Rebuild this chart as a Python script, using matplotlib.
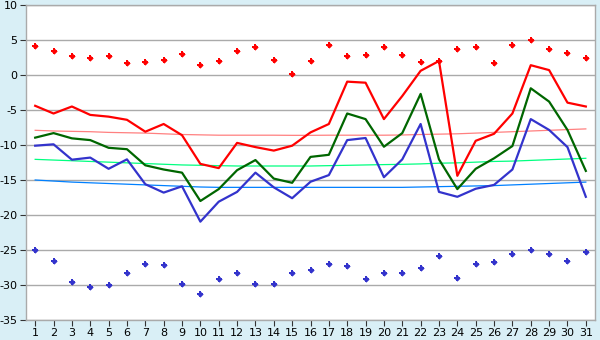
import matplotlib
matplotlib.use("Agg")
import matplotlib.pyplot as plt

days = list(range(1, 32))

max_temp = [-4.4, -5.5, -4.5, -5.7, -5.95, -6.4, -8.1, -7.0, -8.6, -12.7,
            -13.3, -9.7, -10.3, -10.8, -10.1, -8.2, -7.0, -0.95, -1.1, -6.3,
            -3.0, 0.6, 2.0, -14.4, -9.4, -8.4, -5.5, 1.4, 0.7, -3.95, -4.5]
mean_temp = [-8.95, -8.3, -9.05, -9.3, -10.4, -10.6, -12.9, -13.5, -13.95, -18.0,
             -16.3, -13.6, -12.15, -14.8, -15.4, -11.7, -11.4, -5.5, -6.3, -10.25,
             -8.3, -2.7, -12.05, -16.3, -13.4, -11.9, -10.15, -1.9, -3.8, -7.85, -13.7]
min_temp = [-10.1, -9.9, -12.1, -11.8, -13.4, -12.05, -15.6, -16.8, -15.9, -20.95,
            -18.1, -16.7, -13.95, -16.05, -17.6, -15.25, -14.3, -9.3, -9.0, -14.6,
            -12.05, -7.0, -16.7, -17.4, -16.25, -15.7, -13.5, -6.3, -7.85, -10.3, -17.4]
record_max = [4.1, 3.4, 2.7, 2.5, 2.7, 1.7, 1.9, 2.2, 3.0, 1.4,
              1.95, 3.4, 4.0, 2.1, 0.1, 1.95, 4.3, 2.7, 2.9, 4.0,
              2.9, 1.9, 2.0, 3.7, 4.0, 1.7, 4.3, 5.0, 3.7, 3.1, 2.4]
record_min = [-25.0, -26.6, -29.6, -30.3, -30.0, -28.3, -27.0, -27.2, -29.9, -31.3,
              -29.1, -28.3, -29.9, -29.9, -28.3, -27.9, -27.0, -27.3, -29.1, -28.3,
              -28.3, -27.5, -25.9, -29.0, -27.0, -26.7, -25.6, -25.0, -25.6, -26.6, -25.3]
normal_max = [-7.9, -8.0, -8.05, -8.1, -8.2, -8.25, -8.3, -8.4, -8.5, -8.55,
              -8.6, -8.6, -8.6, -8.6, -8.62, -8.62, -8.6, -8.6, -8.6, -8.6,
              -8.57, -8.5, -8.45, -8.4, -8.3, -8.2, -8.1, -8.0, -7.9, -7.8, -7.7]
normal_mean = [-12.05, -12.15, -12.25, -12.35, -12.45, -12.55, -12.65, -12.75, -12.85, -12.9,
               -12.95, -13.0, -13.0, -13.0, -13.0, -13.0, -12.95, -12.9, -12.85, -12.8,
               -12.76, -12.7, -12.6, -12.55, -12.45, -12.35, -12.3, -12.2, -12.1, -12.0, -11.9]
normal_min = [-15.0, -15.15, -15.3, -15.4, -15.5, -15.6, -15.7, -15.8, -15.9, -16.0,
              -16.05, -16.05, -16.05, -16.05, -16.05, -16.05, -16.05, -16.05, -16.05, -16.05,
              -16.05, -16.0, -15.95, -15.9, -15.85, -15.8, -15.7, -15.6, -15.5, -15.4, -15.3]

yticks = list(range(-35, 11, 5))

fig = plt.figure(figsize=(6, 3.4), dpi=100, facecolor="#d9eff6")
ax = fig.add_axes([26 / 600, 1 - 320 / 340, (595 - 26) / 600, (320 - 5) / 340])
ax.set_facecolor("white")

ax.plot(days, normal_max, color="#ff8080", lw=0.9, zorder=2)
ax.plot(days, normal_mean, color="#00ff80", lw=0.9, zorder=2)
ax.plot(days, normal_min, color="#0080ff", lw=0.9, zorder=2)

ax.plot(days, max_temp, color="#ff0000", lw=1.6, zorder=3)
ax.plot(days, mean_temp, color="#006600", lw=1.6, zorder=3)
ax.plot(days, min_temp, color="#3333cc", lw=1.6, zorder=3)

for vals, col in ((record_max, "#ff0000"), (record_min, "#3333cc")):
    ax.plot(days, vals, ls="none", marker="P", ms=5, color=col, mew=0, zorder=4)
    ax.plot(days, vals, ls="none", marker="D", ms=3.2, color=col, mew=0, zorder=4)

ax.set_xlim(0.5, 31.5)
ax.set_ylim(-35, 10)
ax.set_xticks(days)
ax.set_xticklabels([str(d) for d in days])
ax.set_yticks(yticks)
ax.set_yticklabels([str(v) for v in yticks])
ax.yaxis.grid(True, color="#aaaaaa", lw=1.0, zorder=1)
ax.set_axisbelow(True)
for s in ax.spines.values():
    s.set_color("#aaaaaa")
    s.set_linewidth(1.0)
ax.tick_params(axis="both", labelcolor="#000000", labelsize=8, length=4, width=0.8, pad=2, color="#333333")

fig.savefig("out.png", dpi=100, facecolor=fig.get_facecolor())
